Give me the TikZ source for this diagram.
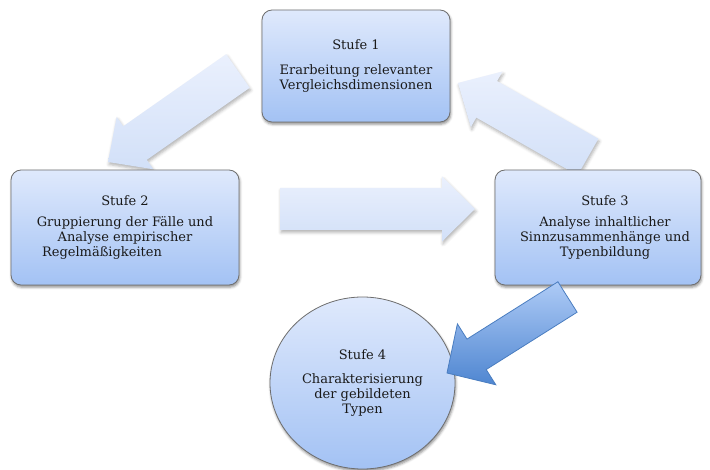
\documentclass[tikz,border=0pt]{standalone}
\usepackage{fontspec}
\setmainfont{DejaVu Serif}
\usetikzlibrary{calc,shadows.blur,shapes.geometric}

\definecolor{boxtop}{HTML}{DFE9FC}
\definecolor{boxbot}{HTML}{A3C2F4}
\definecolor{boxline}{HTML}{6E6E6E}
\definecolor{palearrowtop}{HTML}{EAF0FD}
\definecolor{palearrowbot}{HTML}{D2E0F8}
\definecolor{deeparrowtop}{HTML}{AECBF6}
\definecolor{deeparrowbot}{HTML}{4F86D1}
\definecolor{deeparrowline}{HTML}{4A7DC0}
\definecolor{textcol}{HTML}{1A1A1A}

% block arrow from tail #2 to tip #3:
% #4 half shaft width, #5 half head width, #6 head length
\newcommand\blockarrow[6][]{%
  \coordinate (ba-h) at ($(#3)!#6!(#2)$);
  \path[#1] ($(#2)!#4!90:(#3)$) -- ($(ba-h)!#4!90:(#3)$)
    -- ($(ba-h)!#5!90:(#3)$) -- (#3)
    -- ($(ba-h)!#5!-90:(#3)$) -- ($(ba-h)!#4!-90:(#3)$)
    -- ($(#2)!#4!-90:(#3)$) -- cycle;
}

\tikzset{
  stage/.style={draw=boxline, line width=0.8pt, rounded corners=10pt,
    top color=boxtop, bottom color=boxbot,
    blur shadow={shadow xshift=0.8pt, shadow yshift=-2.2pt,
      shadow blur radius=2.5pt, shadow opacity=45},
    font=\fontsize{13}{15.3}\selectfont, text=textcol,
    align=center, inner sep=0pt},
  stagecircle/.style={stage, ellipse, rounded corners=0pt},
  palearrow/.style={top color=palearrowtop, bottom color=palearrowbot,
    blur shadow={shadow xshift=1pt, shadow yshift=-2.5pt,
      shadow blur radius=3pt, shadow opacity=30}},
  deeparrow/.style={draw=deeparrowline, line width=0.8pt, line join=miter,
    top color=deeparrowtop, bottom color=deeparrowbot}
}

\begin{document}
\begin{tikzpicture}[x=1pt,y=-1pt]
\useasboundingbox (0,0) rectangle (710,470);

% end points of the block arrows
\coordinate (a1s) at (238,71);    \coordinate (a1e) at (108,162);
\coordinate (a2s) at (280,209);   \coordinate (a2e) at (475,209);
\coordinate (a3s) at (588,157);   \coordinate (a3e) at (458,83);
\coordinate (a4s) at (567.5,297); \coordinate (a4e) at (447,373);

% pale arrows of the cycle
\blockarrow[palearrow]{a1s}{a1e}{20.5pt}{32pt}{33pt}
\blockarrow[palearrow]{a2s}{a2e}{21pt}{32.5pt}{33pt}
\blockarrow[palearrow]{a3s}{a3e}{21pt}{32pt}{33pt}

% stages
\node[stage, minimum width=188pt, minimum height=112pt] (box1) at (356,66)
  {Stufe 1\\[10pt]Erarbeitung relevanter\\Vergleichsdimensionen};
\node[stage, minimum width=228pt, minimum height=115pt] (box2) at (125,227.5)
  {Stufe 2\\[6pt]Gruppierung der Fälle und\\Analyse empirischer\\Regelmäßigkeiten\hspace*{46pt}};
\node[stage, minimum width=206pt, minimum height=115pt] (box3) at (598,227.5)
  {\hspace*{14pt}Stufe 3\\[6pt]\hspace*{14pt}Analyse inhaltlicher\\\hspace*{14pt}Sinnzusammenhänge und\\\hspace*{14pt}Typenbildung};
\node[stagecircle, minimum width=185pt, minimum height=172pt] (stage4) at (362.5,383)
  {Stufe 4\\[9pt]Charakterisierung\\der gebildeten\\Typen};

% arrow from stage 3 to stage 4
\blockarrow[deeparrow]{a4s}{a4e}{18pt}{36pt}{35pt}
\end{tikzpicture}
\end{document}
